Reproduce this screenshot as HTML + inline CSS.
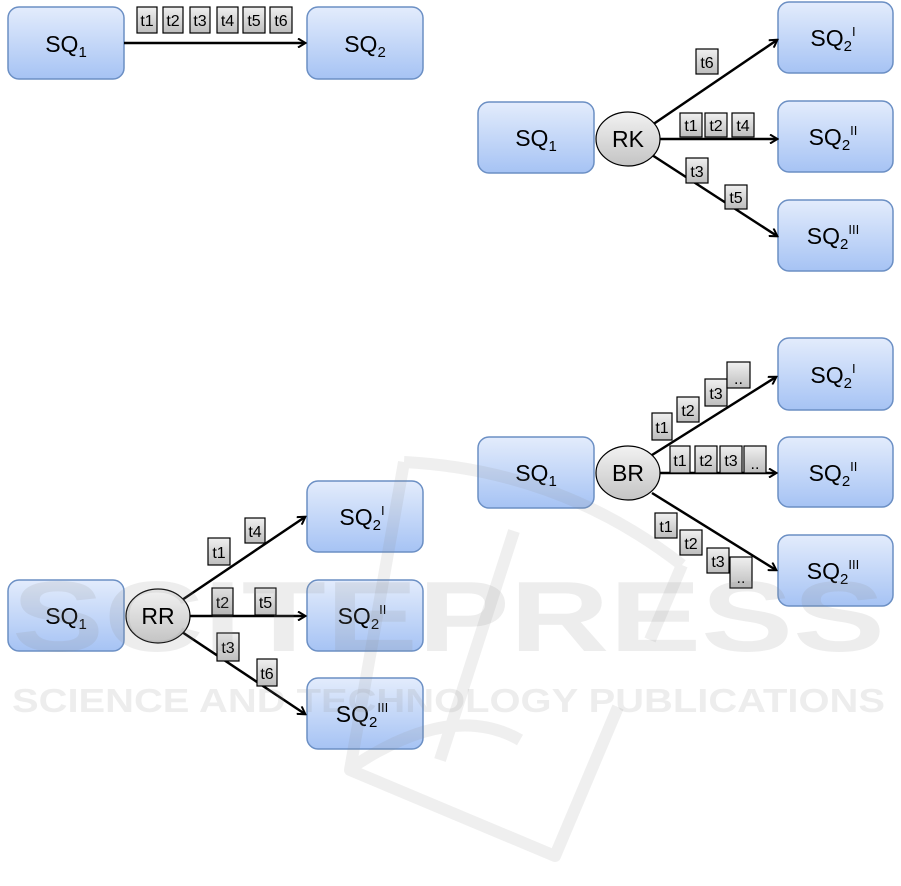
<!DOCTYPE html>
<html><head><meta charset="utf-8"><style>
html,body{margin:0;padding:0;background:#fff;}
svg{display:block;}
.b{fill:url(#gb);stroke:#6b8fc4;stroke-width:1.5;}
.t{fill:url(#gt);stroke:#000;stroke-width:1.2;}
.e{fill:url(#ge);stroke:#000;stroke-width:1.2;}
.l{stroke:#000;stroke-width:2.5;fill:none;marker-end:url(#ah);}
text{font-family:"Liberation Sans Narrow","Liberation Sans",sans-serif;}
.s{font-size:23px;text-anchor:middle;}
.tt{font-size:16px;text-anchor:middle;}
.w{fill:rgba(140,140,140,0.16);font-weight:bold;font-family:"Liberation Sans",sans-serif;}
.wl{stroke:rgba(140,140,140,0.14);stroke-width:12;fill:none;stroke-linejoin:round;}
</style></head><body>
<svg width="901" height="886" viewBox="0 0 901 886" xmlns="http://www.w3.org/2000/svg">
<defs>
<linearGradient id="gb" x1="0" y1="0" x2="0" y2="1"><stop offset="0" stop-color="#e3ecfc"/><stop offset="1" stop-color="#a6c3f4"/></linearGradient>
<linearGradient id="gt" x1="0" y1="0" x2="0" y2="1"><stop offset="0" stop-color="#f0f0f0"/><stop offset="1" stop-color="#bdbdbd"/></linearGradient>
<linearGradient id="ge" x1="0" y1="0" x2="0" y2="1"><stop offset="0" stop-color="#f2f2f2"/><stop offset="1" stop-color="#c4c4c4"/></linearGradient>
<marker id="ah" markerWidth="10" markerHeight="10" refX="8" refY="5" orient="auto" markerUnits="userSpaceOnUse"><path d="M1,0.5 L8.5,5 L1,9.5" fill="none" stroke="#000" stroke-width="2"/></marker>
</defs>

<!-- Top-left -->
<rect class="b" x="8" y="7" width="116" height="72" rx="11"/>
<text class="s" x="66" y="52">SQ<tspan font-size="15" dy="5">1</tspan></text>
<rect class="b" x="307" y="7" width="116" height="72" rx="11"/>
<text class="s" x="365" y="52">SQ<tspan font-size="15" dy="5">2</tspan></text>
<line class="l" x1="124" y1="43" x2="305" y2="43"/>
<rect class="t" x="137" y="7" width="20" height="26"/><text class="tt" x="147" y="26">t1</text>
<rect class="t" x="163" y="7" width="20" height="26"/><text class="tt" x="173" y="26">t2</text>
<rect class="t" x="190" y="7" width="20" height="26"/><text class="tt" x="200" y="26">t3</text>
<rect class="t" x="217" y="7" width="21" height="26"/><text class="tt" x="227.5" y="26">t4</text>
<rect class="t" x="243" y="7" width="22" height="26"/><text class="tt" x="254" y="26">t5</text>
<rect class="t" x="270" y="7" width="22" height="26"/><text class="tt" x="281" y="26">t6</text>

<!-- RK -->
<rect class="b" x="478" y="102" width="116" height="71" rx="11"/>
<text class="s" x="536" y="146">SQ<tspan font-size="15" dy="5">1</tspan></text>
<rect class="b" x="778" y="2" width="115" height="71" rx="11"/>
<text class="s" x="833" y="46">SQ<tspan font-size="15" dy="5">2</tspan><tspan font-size="13" dy="-15">I</tspan></text>
<rect class="b" x="778" y="101" width="115" height="71" rx="11"/>
<text class="s" x="833" y="145">SQ<tspan font-size="15" dy="5">2</tspan><tspan font-size="13" dy="-15">II</tspan></text>
<rect class="b" x="778" y="200" width="115" height="71" rx="11"/>
<text class="s" x="833" y="244">SQ<tspan font-size="15" dy="5">2</tspan><tspan font-size="13" dy="-15">III</tspan></text>
<line class="l" x1="652" y1="125" x2="777" y2="40"/>
<line class="l" x1="658" y1="139" x2="777" y2="139"/>
<line class="l" x1="652" y1="155" x2="777" y2="236"/>
<ellipse class="e" cx="628" cy="139" rx="32" ry="27"/>
<text class="s" x="628" y="147">RK</text>
<rect class="t" x="696" y="49" width="22" height="25"/><text class="tt" x="707" y="68">t6</text>
<rect class="t" x="680" y="113" width="22" height="24"/><text class="tt" x="691" y="131">t1</text>
<rect class="t" x="705" y="113" width="22" height="24"/><text class="tt" x="716" y="131">t2</text>
<rect class="t" x="732" y="113" width="22" height="24"/><text class="tt" x="743" y="131">t4</text>
<rect class="t" x="686" y="158" width="22" height="25"/><text class="tt" x="697" y="177">t3</text>
<rect class="t" x="725" y="185" width="22" height="24"/><text class="tt" x="736" y="203">t5</text>

<!-- BR -->
<rect class="b" x="478" y="437" width="116" height="71" rx="11"/>
<text class="s" x="536" y="481">SQ<tspan font-size="15" dy="5">1</tspan></text>
<rect class="b" x="778" y="338" width="115" height="72" rx="11"/>
<text class="s" x="833" y="383">SQ<tspan font-size="15" dy="5">2</tspan><tspan font-size="13" dy="-15">I</tspan></text>
<rect class="b" x="778" y="437" width="115" height="70" rx="11"/>
<text class="s" x="833" y="481">SQ<tspan font-size="15" dy="5">2</tspan><tspan font-size="13" dy="-15">II</tspan></text>
<rect class="b" x="778" y="535" width="115" height="71" rx="11"/>
<text class="s" x="833" y="579">SQ<tspan font-size="15" dy="5">2</tspan><tspan font-size="13" dy="-15">III</tspan></text>
<line class="l" x1="652" y1="455" x2="776" y2="377"/>
<line class="l" x1="658" y1="473" x2="776" y2="473"/>
<line class="l" x1="652" y1="493" x2="776" y2="570"/>
<ellipse class="e" cx="628" cy="473" rx="32" ry="27"/>
<text class="s" x="628" y="481">BR</text>
<rect class="t" x="652" y="413" width="20" height="27"/><text class="tt" x="662" y="433">t1</text>
<rect class="t" x="677" y="397" width="22" height="25"/><text class="tt" x="688" y="416">t2</text>
<rect class="t" x="705" y="379" width="22" height="27"/><text class="tt" x="716" y="399">t3</text>
<rect class="t" x="727" y="362" width="23" height="26"/><text class="tt" x="738.5" y="384">..</text>
<rect class="t" x="670" y="446" width="20" height="27"/><text class="tt" x="680" y="466">t1</text>
<rect class="t" x="695" y="446" width="22" height="27"/><text class="tt" x="706" y="466">t2</text>
<rect class="t" x="720" y="446" width="22" height="27"/><text class="tt" x="731" y="466">t3</text>
<rect class="t" x="744" y="446" width="22" height="27"/><text class="tt" x="755" y="469">..</text>
<rect class="t" x="655" y="513" width="22" height="25"/><text class="tt" x="666" y="532">t1</text>
<rect class="t" x="680" y="530" width="22" height="25"/><text class="tt" x="691" y="549">t2</text>
<rect class="t" x="707" y="548" width="22" height="25"/><text class="tt" x="718" y="567">t3</text>
<rect class="t" x="730" y="557" width="22" height="31"/><text class="tt" x="741" y="583">..</text>

<!-- RR -->
<rect class="b" x="8" y="580" width="116" height="71" rx="11"/>
<text class="s" x="66" y="624">SQ<tspan font-size="15" dy="5">1</tspan></text>
<rect class="b" x="307" y="481" width="116" height="71" rx="11"/>
<text class="s" x="362" y="525">SQ<tspan font-size="15" dy="5">2</tspan><tspan font-size="13" dy="-15">I</tspan></text>
<rect class="b" x="307" y="580" width="116" height="71" rx="11"/>
<text class="s" x="362" y="624">SQ<tspan font-size="15" dy="5">2</tspan><tspan font-size="13" dy="-15">II</tspan></text>
<rect class="b" x="307" y="678" width="116" height="71" rx="11"/>
<text class="s" x="362" y="722">SQ<tspan font-size="15" dy="5">2</tspan><tspan font-size="13" dy="-15">III</tspan></text>
<line class="l" x1="182" y1="600" x2="305" y2="517"/>
<line class="l" x1="188" y1="616" x2="305" y2="616"/>
<line class="l" x1="182" y1="632" x2="305" y2="714"/>
<ellipse class="e" cx="158" cy="616" rx="32" ry="27"/>
<text class="s" x="158" y="624">RR</text>
<rect class="t" x="208" y="538" width="22" height="27"/><text class="tt" x="219" y="558">t1</text>
<rect class="t" x="245" y="518" width="20" height="25"/><text class="tt" x="255" y="537">t4</text>
<rect class="t" x="212" y="588" width="21" height="27"/><text class="tt" x="222.5" y="608">t2</text>
<rect class="t" x="255" y="588" width="21" height="27"/><text class="tt" x="265.5" y="608">t5</text>
<rect class="t" x="217" y="633" width="22" height="28"/><text class="tt" x="228" y="653">t3</text>
<rect class="t" x="257" y="659" width="20" height="27"/><text class="tt" x="267" y="679">t6</text>

<!-- watermark (on top, translucent) -->
<path class="wl" d="M404,462 L350,770 L555,856 L618,707 M404,462 Q560,470 682,565 M514,531 L440,760 M682,565 L650,640 M348,770 Q450,700 520,740"/>
<text x="12" y="651" class="w" font-size="100" textLength="873" lengthAdjust="spacingAndGlyphs">SCITEPRESS</text>
<text x="12" y="712" class="w" font-size="33" textLength="873" lengthAdjust="spacingAndGlyphs">SCIENCE AND TECHNOLOGY PUBLICATIONS</text>
</svg>
</body></html>
